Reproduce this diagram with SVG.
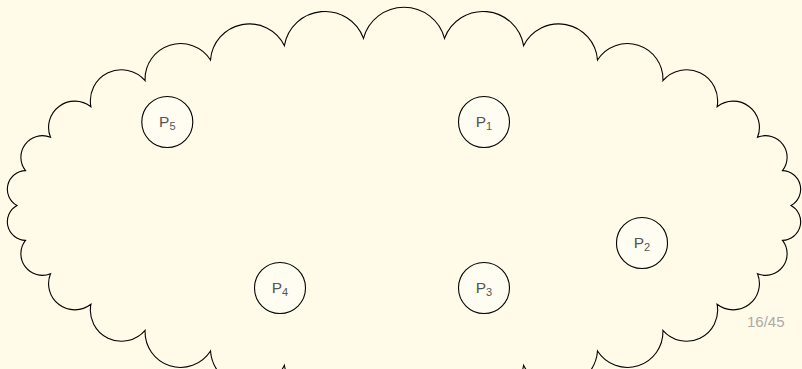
<svg xmlns="http://www.w3.org/2000/svg" width="802" height="369" viewBox="0 0 802 369">
<style>
.cloud{fill:#fffbe8;stroke:#000;stroke-width:1.1;stroke-linejoin:miter}
.node circle{fill:#fffdf2;stroke:#000;stroke-width:1.1}
.node text{font-family:"Liberation Sans",Arial,sans-serif;font-size:15.5px;fill:#555;text-anchor:middle}
.sub{font-size:11px}
.page{font-family:"Liberation Sans",Arial,sans-serif;font-size:15px;fill:#aaa}
</style>
<rect width="802" height="369" fill="#fffbe8"/>
<g id="cloud">
<path class="cloud" d="M791,205.5 A18.6,18.6 0 0 0 782.5,170.6 A21.6,21.6 0 0 0 757.5,137.2 A26.2,26.2 0 0 0 717.1,106.7 A31.1,31.1 0 0 0 662.9,80.7 A35.5,35.5 0 0 0 597.5,60 A39,39 0 0 0 523.6,45.7 A41.1,41.1 0 0 0 444.5,38.4 A41.9,41.9 0 0 0 363.5,38.4 A41.1,41.1 0 0 0 284.4,45.7 A39,39 0 0 0 210.5,60 A35.5,35.5 0 0 0 145.1,80.7 A31.1,31.1 0 0 0 90.9,106.7 A26.2,26.2 0 0 0 50.5,137.2 A21.6,21.6 0 0 0 25.5,170.6 A18.6,18.6 0 0 0 17,205.5 A18.6,18.6 0 0 0 25.5,240.4 A21.6,21.6 0 0 0 50.5,273.8 A26.2,26.2 0 0 0 90.9,304.3 A31.1,31.1 0 0 0 145.1,330.3 A35.5,35.5 0 0 0 210.5,351 A39,39 0 0 0 284.4,365.3 A41.1,41.1 0 0 0 363.5,372.6 A41.9,41.9 0 0 0 444.5,372.6 A41.1,41.1 0 0 0 523.6,365.3 A39,39 0 0 0 597.5,351 A35.5,35.5 0 0 0 662.9,330.3 A31.1,31.1 0 0 0 717.1,304.3 A26.2,26.2 0 0 0 757.5,273.8 A21.6,21.6 0 0 0 782.5,240.4 A18.6,18.6 0 0 0 791,205.5 Z"/>
</g>
<g id="connectors"></g>
<g id="P1" class="node"><circle cx="484" cy="122" r="25.5"/><text x="484" y="126.5">P<tspan class="sub" dy="3">1</tspan></text></g>
<g id="P2" class="node"><circle cx="642" cy="243" r="25.5"/><text x="642" y="247.5">P<tspan class="sub" dy="3">2</tspan></text></g>
<g id="P3" class="node"><circle cx="484" cy="288" r="25.5"/><text x="484" y="292.5">P<tspan class="sub" dy="3">3</tspan></text></g>
<g id="P4" class="node"><circle cx="280" cy="288" r="25.5"/><text x="280" y="292.5">P<tspan class="sub" dy="3">4</tspan></text></g>
<g id="P5" class="node"><circle cx="167.3" cy="122" r="25.5"/><text x="167.3" y="126.5">P<tspan class="sub" dy="3">5</tspan></text></g>
<text class="page" x="747" y="327">16/45</text>
</svg>
